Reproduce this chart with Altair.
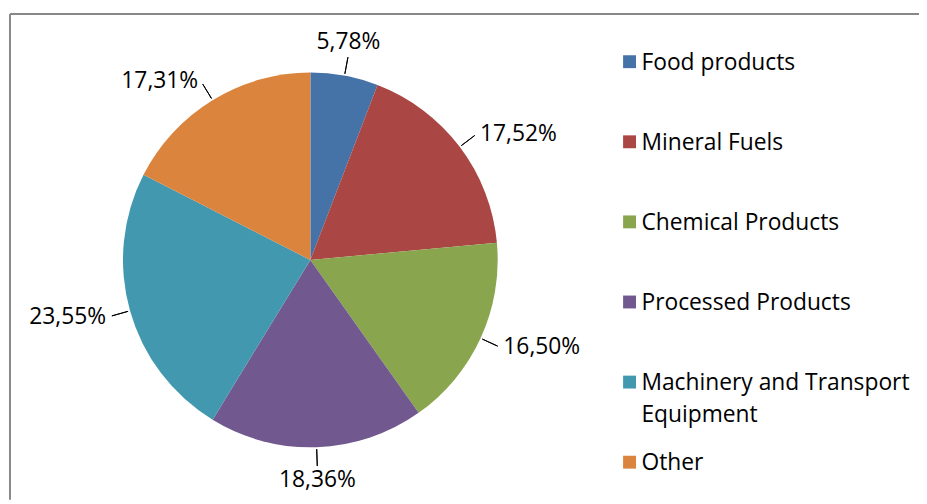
import altair as alt
import pandas as pd

categories = ["Food products", "Mineral Fuels", "Chemical Products",
              "Processed Products", "Machinery and Transport Equipment", "Other"]
shares = [5.78, 17.52, 16.50, 18.36, 23.55, 17.31]
pct_labels = ["5,78%", "17,52%", "16,50%", "18,36%", "23,55%", "17,31%"]
legend_labels = ["Food products", "Mineral Fuels", "Chemical Products",
                 "Processed Products", "Machinery and Transport\nEquipment", "Other"]
colors = ["#4572A7", "#AA4643", "#89A54E", "#71588F", "#4198AF", "#DB843D"]

df = pd.DataFrame({
    "category": categories,
    "share": shares,
    "label": pct_labels,
    "legend": legend_labels,
    "idx": list(range(len(categories))),
})

FONT = "Open Sans"
FS = 23
W, H = 917, 490
CX, CY, R = 303, 248, 189
total = sum(shares)
theta_scale = alt.Scale(domain=[0, total])
color = alt.Color("category:N", scale=alt.Scale(domain=categories, range=colors), legend=None)

base = (
    alt.Chart(df)
    .transform_joinaggregate(tot="sum(share)")
    .transform_window(cum="sum(share)", sort=[alt.SortField("idx", order="ascending")], frame=[None, 0])
    .transform_calculate(mid="datum.cum - datum.share / 2")
    .transform_calculate(ang="datum.mid / datum.tot * 360")
    .transform_calculate(
        side="datum.ang < 30 || datum.ang > 330 ? 'top' : "
             "(datum.ang > 150 && datum.ang < 210 ? 'bottom' : "
             "(datum.ang < 180 ? 'right' : 'left'))"
    )
)

pie = alt.Chart(df).mark_arc(radius=R).encode(
    theta=alt.Theta("share:Q", stack=True, scale=theta_scale),
    color=color,
    order=alt.Order("idx:Q", sort="ascending"),
    x=alt.value(CX), y=alt.value(CY),
)

leaders = base.mark_arc(radius=R + 2, radius2=R + 19, stroke="#000000",
                        strokeWidth=1, fill="transparent").encode(
    theta=alt.Theta("mid:Q", stack=None, scale=theta_scale),
    theta2=alt.Theta2("mid:Q"),
    x=alt.value(CX), y=alt.value(CY),
)


def lab(side, align, baseline, dx=0, dy=0):
    return base.transform_filter(f"datum.side == '{side}'").mark_text(
        radius=R + 22, align=align, baseline=baseline, dx=dx, dy=dy,
        font=FONT, fontSize=FS, color="#000000",
    ).encode(
        theta=alt.Theta("mid:Q", stack=None, scale=theta_scale),
        text="label:N",
        x=alt.value(CX), y=alt.value(CY),
    )


labels = [
    lab("top", "center", "bottom"),
    lab("bottom", "center", "top"),
    lab("right", "left", "middle", dx=3),
    lab("left", "right", "middle", dx=-3),
]

leg_y = alt.Y("idx:O", scale=alt.Scale(type="point", range=[48, 452], padding=0), axis=None)
leg_sq = alt.Chart(df).mark_square(size=169, opacity=1).encode(
    x=alt.value(625), y=leg_y, color=color,
)
leg_txt = alt.Chart(df).mark_text(
    align="left", baseline="alphabetic", dy=8, lineBreak="\n", lineHeight=32,
    font=FONT, fontSize=FS, color="#000000",
).encode(x=alt.value(637), y=leg_y, text="legend:N")

frame = alt.Data(values=[{}])
border_top = alt.Chart(frame).mark_rule(color="#888888", strokeWidth=2).encode(
    x=alt.value(0), x2=alt.value(W), y=alt.value(0))
border_left = alt.Chart(frame).mark_rule(color="#888888", strokeWidth=2).encode(
    x=alt.value(0), y=alt.value(0), y2=alt.value(H))

chart = alt.layer(border_top, border_left, pie, leaders, *labels, leg_sq, leg_txt).properties(
    width=W, height=H,
    padding={"left": 2, "top": 4, "right": 0, "bottom": 0},
    autosize=alt.AutoSizeParams(type="none"),
    background="white",
).configure_view(stroke=None)

chart.save("out.html", embed_options={"renderer": "svg", "actions": False})
